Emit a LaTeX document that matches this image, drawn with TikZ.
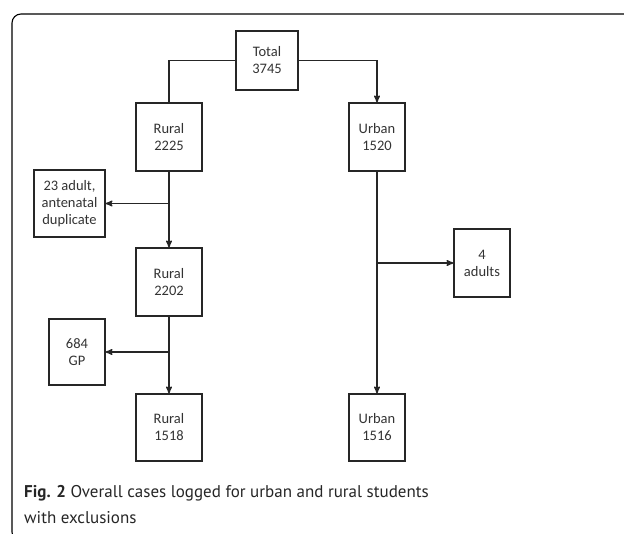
\documentclass[tikz,border=0pt]{standalone}
\usepackage{fontspec}
\setmainfont{Carlito}
\newfontfamily\capfont{PT Sans}
\usepackage{tikz}
\usetikzlibrary{arrows,positioning}

\begin{document}
\begin{tikzpicture}[x=1pt,y=-1pt,>=stealth',
	box/.style={shape=rectangle, draw=black!85, line width=1.1pt, align=center, font=\fontsize{14.5}{17}\selectfont, text=black!80, inner sep=2pt},
	link/.style={draw=black!85, line width=1.4pt}]
\useasboundingbox (0,0) rectangle (624,533);
\clip (0,0) rectangle (624,533);
% frame
\draw[line width=1.1pt, rounded corners=9pt] (12,14) rectangle (650,541);

% main boxes
\node [box, minimum width=62pt, minimum height=59pt] (tot) at (267,60.5) {Total\\3745};
\node [box, minimum width=66pt, minimum height=68pt] (r1) at (169,137) {Rural\\2225};
\node [box, minimum width=56pt, minimum height=68pt] (u1) at (377,137) {Urban\\1520};
\node [box, minimum width=66pt, minimum height=68pt] (r2) at (169,282) {Rural\\2202};
\node [box, minimum width=66pt, minimum height=67pt] (r3) at (169,427.5) {Rural\\1518};
\node [box, minimum width=56pt, minimum height=67pt] (u2) at (377,427.5) {Urban\\1516};

% exclusions
\node [box, minimum width=71pt, minimum height=67pt] (ex1) at (69.5,203.5) {23 adult,\\antenatal\\duplicate};
\node [box, minimum width=56pt, minimum height=66pt] (ex2) at (77,352) {684\\GP};
\node [box, minimum width=56pt, minimum height=68pt] (ex3) at (482,263) {4\\adults};

% connectors
\draw [link] (tot.west) -| (r1.north);
\draw [link,->] (tot.east) -| (u1.north);
\draw [link,->] (r1.south) -- (r2.north);
\draw [link,->] (r2.south) -- (r3.north);
\draw [link,->] (u1.south) -- (u2.north);
\coordinate (b1) at (r1.south |- ex1.east);
\coordinate (b2) at (r2.south |- ex2.east);
\coordinate (b3) at (u1.south |- ex3.west);
\draw [link,->] (b1) -- (ex1.east);
\draw [link,->] (b2) -- (ex2.east);
\draw [link,->] (b3) -- (ex3.west);

% caption
\node [anchor=base west, align=left, inner sep=0pt, font=\capfont\fontsize{17}{26}\selectfont, text=black!85] (cap) at (24,523)
	{\textbf{Fig. 2} Overall cases logged for urban and rural students\\with exclusions};
\end{tikzpicture}
\end{document}
